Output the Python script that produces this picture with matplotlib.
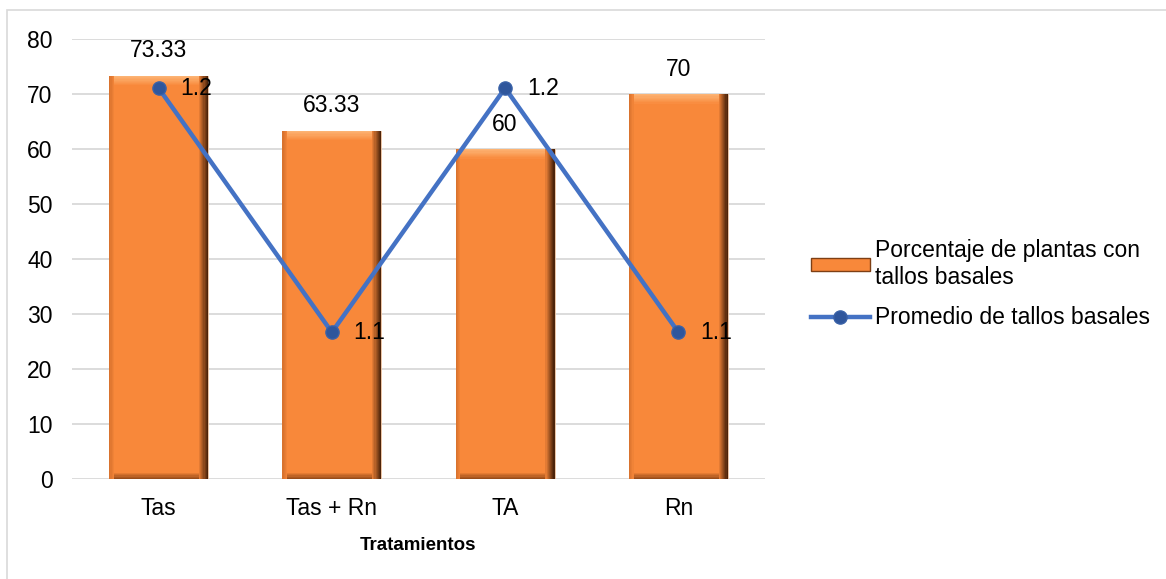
#!/usr/bin/env python3
"""
Basal stems chart: bars (percentage of plants) + line (mean basal stems)
"""

import matplotlib.pyplot as plt
from matplotlib.patches import Rectangle
import numpy as np

plt.rcParams['font.family'] = ['Liberation Sans', 'DejaVu Sans']

# data
tratamientos = ['Tas', 'Tas + Rn', 'TA', 'Rn']
porcentaje = [73.33, 63.33, 60, 70]
promedio = [1.2, 1.1, 1.2, 1.1]
porcentaje_labels = ['73.33', '63.33', '60', '70']
promedio_labels = ['1.2', '1.1', '1.2', '1.1']

BAR_COLOR = '#F8883A'
LINE_COLOR = '#4472C4'
FS = 16.5

fig = plt.figure(figsize=(11.66, 5.79), dpi=100)
fig.patches.append(Rectangle((7 / 1166, -0.1), 1.2, 0.1 + (579 - 10) / 579,
                             transform=fig.transFigure, fill=False,
                             edgecolor='#d9d9d9', linewidth=1.2))

ax = fig.add_axes([72 / 1166, 100 / 579, 693 / 1166, 440 / 579])
x = np.arange(len(tratamientos))
top = np.array(porcentaje)
w = 0.57

# bars with a bevel look
ax.bar(x, top, width=w, color=BAR_COLOR, edgecolor='#e8c6a8',
       linewidth=0.6, zorder=2)
n = 8
# top bevel (light to base)
dy = 0.22
for k in range(n):
    c = np.array([0.99, 0.70, 0.45]) * (1 - k / n) + np.array([0.973, 0.533, 0.227]) * (k / n)
    ax.bar(x, [dy] * len(x), bottom=top - (k + 1) * dy, width=w - 0.01,
           color=c, linewidth=0, zorder=3)
# bottom bevel (dark)
for k in range(5):
    c = np.array([0.60, 0.30, 0.10]) * (1 - k / 5) + np.array([0.973, 0.533, 0.227]) * (k / 5)
    ax.bar(x, [dy] * len(x), bottom=k * dy, width=w - 0.01,
           color=c, linewidth=0, zorder=3)
# right edge (dark gradient)
dx = 0.0065
for k in range(n):
    c = np.array([0.30, 0.14, 0.04]) * (1 - k / n) + np.array([0.973, 0.533, 0.227]) * (k / n)
    ax.bar(x + w / 2 - (k + 0.5) * dx, top, width=dx,
           color=c, linewidth=0, zorder=4)
# left edge (slight shade)
for k in range(4):
    c = np.array([0.85, 0.45, 0.18]) * (1 - k / 4) + np.array([0.973, 0.533, 0.227]) * (k / 4)
    ax.bar(x - w / 2 + (k + 0.5) * dx, top, width=dx,
           color=c, linewidth=0, zorder=4)

for i, v in enumerate(porcentaje):
    ax.text(x[i], v + 4.5, porcentaje_labels[i], ha='center', va='center',
            fontsize=FS, color='black', zorder=6)

ax.set_ylim(0, 80)
ax.set_xlim(-0.5, len(x) - 0.5)
ax.set_yticks(range(0, 81, 10))
ax.set_xticks(x)
ax.set_xticklabels(tratamientos, fontsize=FS)
ax.tick_params(axis='y', labelsize=FS, length=0, pad=14)
ax.tick_params(axis='x', length=0, pad=13)
ax.grid(axis='y', color='#d9d9d9', linewidth=1.3, zorder=0)
ax.set_axisbelow(True)
for s in ax.spines.values():
    s.set_visible(False)
ax.set_xlabel('Tratamientos', fontsize=13.5, fontweight='bold', labelpad=12)

# line on hidden secondary axis
ax2 = ax.twinx()
ax2.set_ylim(1.0399, 1.2201)
ax2.axis('off')
ax2.plot(x, promedio, color=LINE_COLOR, linewidth=3.2, marker='o',
         markersize=9.5, markerfacecolor='#2F569C', markeredgecolor='#3a62a8',
         zorder=5)
for i, v in enumerate(promedio):
    ax2.text(x[i] + 0.125, v, promedio_labels[i], ha='left', va='center',
             fontsize=FS, color='black', zorder=6)

# legend
bar_h = Rectangle((0, 0), 1, 1, facecolor=BAR_COLOR, edgecolor='#7E3F14')
line_h, = ax2.plot([], [], color=LINE_COLOR, linewidth=3.2, marker='o',
                   markersize=9.5, markerfacecolor='#2F569C',
                   markeredgecolor='#3a62a8')
fig.legend([bar_h, line_h],
           ['Porcentaje de plantas con\ntallos basales',
            'Promedio de tallos basales'],
           loc='center left', bbox_to_anchor=(790 / 1166, 1 - 284 / 579),
           frameon=False, fontsize=FS, handlelength=2.6, handleheight=0.5,
           handletextpad=0.2, labelspacing=0.75)

plt.savefig('out.png', dpi=100)
plt.close()
